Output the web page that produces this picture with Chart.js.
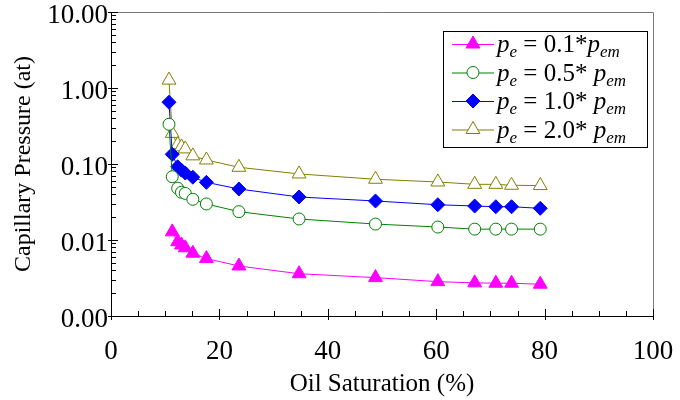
<!DOCTYPE html>
<html>
<head>
<title>Capillary Pressure</title>
<script src="https://cdn.jsdelivr.net/npm/chart.js"></script>
<style>
  body { margin: 0; background: #fff; }
  #wrap { width: 680px; height: 400px; }
</style>
</head>
<body>
<div id="wrap"><canvas id="pcChart"></canvas></div>
<script>
// oil saturation (%) - same for all four curves
const saturation = [10.7, 11.3, 12.3, 13.0, 13.7, 15.1, 17.6, 23.6, 34.7, 48.8, 60.3, 67.1, 71.0, 73.9, 79.2];
// capillary pressure (at) for each entry pressure factor
const pc01 = [null, 0.0128, 0.0095, 0.0086, 0.0079, 0.0067, 0.0057, 0.00455, 0.0036, 0.0032, 0.00283, 0.00273, 0.0027, 0.0027, 0.00262];
const pc05 = [0.333, 0.068, 0.048, 0.0425, 0.041, 0.0343, 0.0298, 0.0236, 0.0189, 0.0162, 0.0148, 0.0139, 0.0139, 0.0139, 0.0139];
const pc10 = [0.65, 0.134, 0.092, 0.083, 0.076, 0.067, 0.0574, 0.0469, 0.0368, 0.0326, 0.0291, 0.028, 0.0274, 0.0274, 0.0261];
const pc20 = [1.27, 0.253, 0.18, 0.168, 0.158, 0.128, 0.113, 0.0905, 0.074, 0.063, 0.058, 0.054, 0.054, 0.0525, 0.052];
const factors = ['0.1*', '0.5* ', '1.0* ', '2.0* '];
const yTicks = [0.001, 0.01, 0.1, 1, 10];
const xTicks = [0, 20, 40, 60, 80, 100];

const serif = 'Liberation Serif';

function toPoints(vals) {
  return saturation.map((s, i) => ({ x: s, y: vals[i] })).filter(p => p.y !== null);
}

const series = [
  { vals: pc01, color: '#ff00ff', style: 'triangle', r: 8, fill: '#ff00ff' },
  { vals: pc05, color: '#008000', style: 'circle', r: 6, fill: '#ffffff' },
  { vals: pc10, color: '#0000ff', style: 'rectRot', r: 7, fill: '#0000ff' },
  { vals: pc20, color: '#808000', style: 'triangle', r: 8, fill: '#ffffff' }
];

// frame and inward tick marks
const frameTicks = {
  id: 'frameTicks',
  afterDatasetsDraw(chart) {
    const { ctx, chartArea: a, scales: { x, y } } = chart;
    ctx.save();
    ctx.lineWidth = 1;
    ctx.strokeStyle = '#777';
    ctx.beginPath();
    ctx.moveTo(a.left, a.top + 0.5);
    ctx.lineTo(a.right + 0.5, a.top + 0.5);
    ctx.lineTo(a.right + 0.5, a.bottom);
    ctx.stroke();

    ctx.strokeStyle = '#000';
    ctx.beginPath();
    ctx.moveTo(a.left + 0.5, a.top);
    ctx.lineTo(a.left + 0.5, a.bottom + 0.5);
    ctx.lineTo(a.right + 1, a.bottom + 0.5);
    // y ticks
    for (let e = -3; e <= 1; e++) {
      for (let m = 1; m <= 9; m++) {
        const v = m * Math.pow(10, e);
        if (v > 10.0001) break;
        const py = Math.round(y.getPixelForValue(v)) + 0.5;
        if (m === 1) { ctx.moveTo(a.left - 3, py); ctx.lineTo(a.left + 7, py); }
        else { ctx.moveTo(a.left, py); ctx.lineTo(a.left + 5, py); }
      }
    }
    // x ticks
    for (let v = 0; v <= 100; v += 5) {
      const px = Math.round(x.getPixelForValue(v)) + 0.5;
      if (v % 20 === 0) { ctx.moveTo(px, a.bottom + 4); ctx.lineTo(px, a.bottom - 7); }
      else { ctx.moveTo(px, a.bottom); ctx.lineTo(px, a.bottom - 5); }
    }
    ctx.stroke();
    ctx.restore();
  }
};

function marker(ctx, s, cx, cy) {
  ctx.beginPath();
  if (s.style === 'circle') {
    ctx.arc(cx, cy, s.r, 0, Math.PI * 2);
  } else if (s.style === 'rectRot') {
    ctx.moveTo(cx - s.r, cy); ctx.lineTo(cx, cy - s.r); ctx.lineTo(cx + s.r, cy); ctx.lineTo(cx, cy + s.r);
  } else {
    const h = s.r * Math.sqrt(3) / 2;
    ctx.moveTo(cx, cy - s.r); ctx.lineTo(cx + h, cy + s.r / 2); ctx.lineTo(cx - h, cy + s.r / 2);
  }
  ctx.closePath();
  ctx.fillStyle = s.fill;
  ctx.fill();
  ctx.strokeStyle = s.color;
  ctx.stroke();
}

// legend with subscripts
const peLegend = {
  id: 'peLegend',
  afterDraw(chart) {
    const ctx = chart.ctx;
    const bx = 443, by = 31, bw = 204, bh = 116, step = 28.5;
    ctx.save();
    ctx.fillStyle = '#fff';
    ctx.fillRect(bx, by, bw, bh);
    ctx.strokeStyle = '#000';
    ctx.lineWidth = 1;
    ctx.strokeRect(bx + 0.5, by + 0.5, bw, bh);
    series.forEach((s, i) => {
      const cy = by + 13 + i * step;
      ctx.strokeStyle = s.color;
      ctx.beginPath();
      ctx.moveTo(452, cy + 0.5); ctx.lineTo(494, cy + 0.5);
      ctx.stroke();
      marker(ctx, s, 473, cy);
      const base = cy + 8;
      let tx = 497;
      const parts = [
        { t: 'p', f: 'italic 25px ' + serif, dy: 0 },
        { t: 'e', f: 'italic 17px ' + serif, dy: 5 },
        { t: ' = ' + factors[i], f: '25px ' + serif, dy: 0 },
        { t: 'p', f: 'italic 25px ' + serif, dy: 0 },
        { t: 'em', f: 'italic 17px ' + serif, dy: 5 }
      ];
      ctx.fillStyle = '#000';
      ctx.textBaseline = 'alphabetic';
      parts.forEach(p => {
        ctx.font = p.f;
        ctx.fillText(p.t, tx, base + p.dy);
        tx += ctx.measureText(p.t).width;
      });
    });
    ctx.restore();
  }
};

new Chart(document.getElementById('pcChart'), {
  type: 'line',
  data: {
    datasets: series.map(s => ({
      data: toPoints(s.vals),
      borderColor: s.color,
      borderWidth: 1,
      pointStyle: s.style,
      pointRadius: s.r,
      pointHoverRadius: s.r,
      pointBorderColor: s.color,
      pointBackgroundColor: s.fill,
      pointBorderWidth: 1,
      tension: 0,
      fill: false
    }))
  },
  options: {
    responsive: true,
    maintainAspectRatio: false,
    animation: false,
    layout: { padding: { top: 12, right: 27, left: 0, bottom: 0 } },
    plugins: { legend: { display: false }, tooltip: { enabled: false } },
    scales: {
      x: {
        type: 'linear',
        min: 0, max: 100,
        afterFit: sc => { sc.height = 84; sc.paddingLeft = 0; sc.paddingRight = 0; },
        afterBuildTicks: sc => { sc.ticks = xTicks.map(v => ({ value: v })); },
        grid: { display: false, drawTicks: false },
        border: { display: false },
        ticks: { color: '#000', padding: 20, font: { family: serif, size: 27 } },
        title: { display: true, text: 'Oil Saturation (%)', color: '#000', padding: { top: 0, bottom: 1 }, font: { family: serif, size: 25 } }
      },
      y: {
        type: 'logarithmic',
        min: 0.001, max: 10,
        afterFit: sc => { sc.width = 111; sc.paddingTop = 0; sc.paddingBottom = 0; },
        afterBuildTicks: sc => { sc.ticks = yTicks.map(v => ({ value: v })); },
        grid: { display: false, drawTicks: false },
        border: { display: false },
        ticks: { color: '#000', padding: 3, labelOffset: 4, font: { family: serif, size: 27 }, callback: v => Number(v).toFixed(2) },
        title: { display: true, text: 'Capillary Pressure (at)', color: '#000', padding: { top: 9, bottom: 0 }, font: { family: serif, size: 24 } }
      }
    }
  },
  plugins: [frameTicks, peLegend]
});
</script>
</body>
</html>
